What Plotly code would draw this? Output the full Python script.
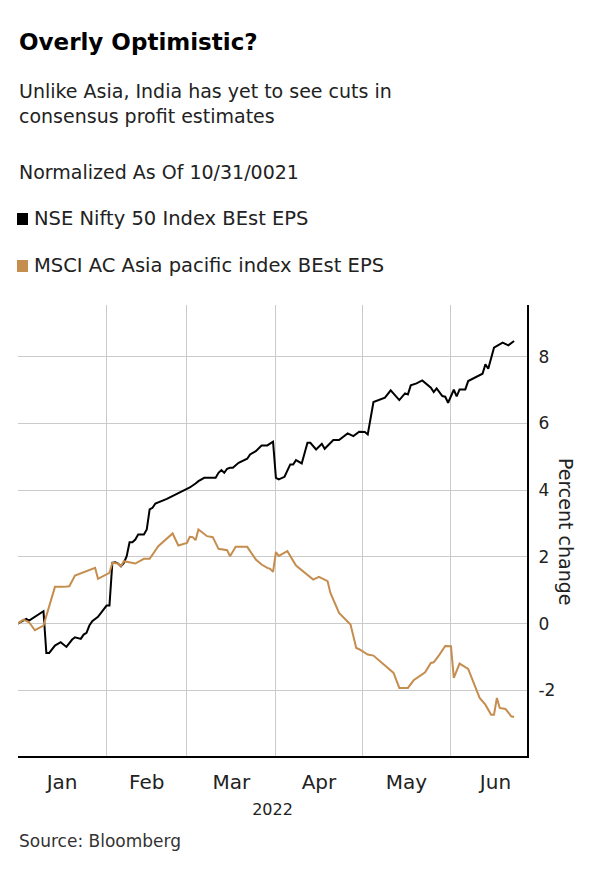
import plotly.graph_objects as go

# ---------------- data ----------------
nse_dates = [
    "2022-01-01", "2022-01-04", "2022-01-05", "2022-01-10", "2022-01-11", "2022-01-12",
    "2022-01-14", "2022-01-16", "2022-01-18", "2022-01-20", "2022-01-21", "2022-01-23",
    "2022-01-24", "2022-01-25", "2022-01-26", "2022-01-27", "2022-01-29", "2022-01-31",
    "2022-02-01", "2022-02-02", "2022-02-03", "2022-02-04", "2022-02-05", "2022-02-06",
    "2022-02-07", "2022-02-08", "2022-02-09", "2022-02-10", "2022-02-11", "2022-02-12",
    "2022-02-14", "2022-02-15", "2022-02-16", "2022-02-17", "2022-02-18", "2022-02-22",
    "2022-03-02", "2022-03-04", "2022-03-05", "2022-03-07", "2022-03-11", "2022-03-12",
    "2022-03-13", "2022-03-14", "2022-03-15", "2022-03-16", "2022-03-17", "2022-03-19",
    "2022-03-22", "2022-03-23", "2022-03-25", "2022-03-27", "2022-03-29", "2022-03-31",
    "2022-04-01", "2022-04-02", "2022-04-04", "2022-04-06", "2022-04-07", "2022-04-08",
    "2022-04-10", "2022-04-12", "2022-04-13", "2022-04-15", "2022-04-17", "2022-04-18",
    "2022-04-21", "2022-04-23", "2022-04-26", "2022-04-28", "2022-04-30", "2022-05-02",
    "2022-05-03", "2022-05-05", "2022-05-08", "2022-05-09", "2022-05-11", "2022-05-14",
    "2022-05-16", "2022-05-17", "2022-05-18", "2022-05-20", "2022-05-22", "2022-05-24",
    "2022-05-25", "2022-05-26", "2022-05-27", "2022-05-29", "2022-05-30", "2022-05-31",
    "2022-06-02", "2022-06-03", "2022-06-04", "2022-06-06", "2022-06-07", "2022-06-12",
    "2022-06-13", "2022-06-14", "2022-06-16", "2022-06-19", "2022-06-21", "2022-06-23",
]
nse_values = [
    0.00, 0.14, 0.09, 0.37, -0.88, -0.88,
    -0.66, -0.56, -0.70, -0.48, -0.41, -0.46,
    -0.33, -0.28, -0.06, 0.07, 0.20, 0.42,
    0.54, 0.54, 1.82, 1.84, 1.80, 1.72,
    1.82, 2.02, 2.44, 2.44, 2.52, 2.67,
    2.67, 2.82, 3.42, 3.47, 3.60, 3.74,
    4.08, 4.20, 4.27, 4.37, 4.37, 4.52,
    4.60, 4.52, 4.64, 4.67, 4.67, 4.82,
    4.94, 5.07, 5.17, 5.34, 5.34, 5.45,
    4.37, 4.32, 4.40, 4.77, 4.77, 4.90,
    4.80, 5.42, 5.42, 5.22, 5.39, 5.24,
    5.50, 5.50, 5.70, 5.62, 5.75, 5.74,
    5.67, 6.64, 6.74, 6.77, 6.99, 6.70,
    6.90, 6.87, 7.14, 7.20, 7.29, 7.14,
    7.07, 6.94, 7.05, 6.82, 6.80, 6.62,
    7.01, 6.81, 7.02, 7.02, 7.27, 7.49,
    7.77, 7.64, 8.27, 8.42, 8.34, 8.47,
]

msci_dates = [
    "2022-01-01", "2022-01-03", "2022-01-05", "2022-01-07", "2022-01-10", "2022-01-12",
    "2022-01-14", "2022-01-17", "2022-01-19", "2022-01-21", "2022-01-28", "2022-01-29",
    "2022-02-02", "2022-02-03", "2022-02-05", "2022-02-06", "2022-02-07", "2022-02-11",
    "2022-02-14", "2022-02-16", "2022-02-19", "2022-02-24", "2022-02-26", "2022-03-01",
    "2022-03-02", "2022-03-03", "2022-03-04", "2022-03-05", "2022-03-08", "2022-03-10",
    "2022-03-12", "2022-03-15", "2022-03-16", "2022-03-18", "2022-03-22", "2022-03-25",
    "2022-03-27", "2022-03-29", "2022-03-30", "2022-03-31", "2022-04-01", "2022-04-02",
    "2022-04-05", "2022-04-08", "2022-04-14", "2022-04-16", "2022-04-19", "2022-04-20",
    "2022-04-23", "2022-04-27", "2022-04-29", "2022-04-30", "2022-05-03", "2022-05-05",
    "2022-05-11", "2022-05-12", "2022-05-14", "2022-05-17", "2022-05-19", "2022-05-23",
    "2022-05-25", "2022-05-26", "2022-05-28", "2022-05-30", "2022-06-01", "2022-06-02",
    "2022-06-04", "2022-06-07", "2022-06-11", "2022-06-13", "2022-06-15", "2022-06-16",
    "2022-06-17", "2022-06-18", "2022-06-20", "2022-06-22", "2022-06-23",
]
msci_values = [
    0.00, 0.12, 0.04, -0.20, -0.06, 0.52,
    1.10, 1.10, 1.12, 1.44, 1.67, 1.34,
    1.52, 1.82, 1.80, 1.72, 1.87, 1.80,
    1.94, 1.94, 2.32, 2.70, 2.34, 2.42,
    2.60, 2.59, 2.50, 2.82, 2.62, 2.59,
    2.24, 2.20, 2.02, 2.30, 2.30, 1.92,
    1.77, 1.67, 1.64, 1.55, 2.14, 2.03,
    2.17, 1.74, 1.32, 1.40, 1.27, 0.92,
    0.32, -0.03, -0.73, -0.77, -0.93, -0.96,
    -1.43, -1.48, -1.93, -1.93, -1.70, -1.46,
    -1.18, -1.16, -0.93, -0.67, -0.68, -1.63,
    -1.20, -1.36, -2.23, -2.43, -2.73, -2.73,
    -2.23, -2.53, -2.56, -2.78, -2.80,
]

y_ticks = [-2, 0, 2, 4, 6, 8]
y_tick_labels = ["-2", "0", "2", "4", "6", "8"]
series_names = ["NSE Nifty 50 Index BEst EPS", "MSCI AC Asia pacific index BEst EPS"]

# ---------------- styling ----------------
FONT = "DejaVu Sans"
BLACK = "#000000"
TAN = "#c58d4e"
GRID = "#cbcbcb"
TEXT = "#222222"

# The page body adds an 8px offset, so the figure is drawn 8px smaller and
# every reference pixel coordinate is converted with that offset.
OFF = 8
W, H = 600 - OFF, 869 - OFF
L, T = 18 - OFF, 305 - OFF          # plot area: ref x 18..527, y 305..756
PW, PH = 509, 451
R, B = W - L - PW, H - T - PH


def px(x):
    return (x - OFF - L) / PW


def py(y):
    return (H - B - (y - OFF)) / PH


fig = go.Figure()
fig.add_trace(go.Scatter(x=nse_dates, y=nse_values, mode="lines", name=series_names[0],
                         line=dict(color=BLACK, width=2), showlegend=False))
fig.add_trace(go.Scatter(x=msci_dates, y=msci_values, mode="lines", name=series_names[1],
                         line=dict(color=TAN, width=2), showlegend=False))

fig.update_layout(
    width=W, height=H,
    margin=dict(l=L, r=R, t=T, b=B),
    paper_bgcolor="white", plot_bgcolor="white",
    font=dict(family=FONT, color=TEXT),
    xaxis=dict(
        type="date",
        range=["2022-01-01 03:00", "2022-06-27 12:00"],
        tick0="2022-01-01", dtick="M1", tickformat="%b",
        ticklabelmode="period",
        showgrid=True, gridcolor=GRID, gridwidth=1,
        showline=True, linecolor=BLACK, linewidth=2,
        ticks="", zeroline=False,
        tickfont=dict(size=20, color=TEXT),
        ticklabelstandoff=7,
        title=dict(text="2022", font=dict(size=16, color=TEXT), standoff=11),
    ),
    yaxis=dict(
        side="right",
        range=[-3.97, 9.55],
        tickmode="array", tickvals=y_ticks, ticktext=y_tick_labels,
        showgrid=True, gridcolor=GRID, gridwidth=1,
        showline=True, linecolor=BLACK, linewidth=2,
        ticks="", zeroline=False,
        tickfont=dict(size=17, color=TEXT),
        ticklabelstandoff=6,
    ),
)

ann = []
ann.append(dict(text="<b>Overly Optimistic?</b>", x=px(17), y=py(57), xanchor="left", yanchor="bottom",
                font=dict(size=23, color="#000000")))
ann.append(dict(text="Unlike Asia, India has yet to see cuts in<br>consensus profit estimates",
                x=px(17), y=py(129), xanchor="left", yanchor="bottom", align="left",
                font=dict(size=19, color=TEXT)))
ann.append(dict(text="Normalized As Of 10/31/0021", x=px(17), y=py(185), xanchor="left", yanchor="bottom",
                font=dict(size=19, color=TEXT)))
ann.append(dict(text=series_names[0], x=px(32), y=py(232),
                xanchor="left", yanchor="bottom", font=dict(size=19.5, color=TEXT)))
ann.append(dict(text=series_names[1], x=px(32), y=py(279),
                xanchor="left", yanchor="bottom", font=dict(size=19.5, color=TEXT)))
ann.append(dict(text="Percent change", x=px(566), y=py(531), xanchor="center", yanchor="middle",
                textangle=90, font=dict(size=19, color=TEXT)))
ann.append(dict(text="Source: Bloomberg", x=px(17), y=py(853), xanchor="left", yanchor="bottom",
                font=dict(size=17, color="#333333")))
for a in ann:
    a.update(xref="paper", yref="paper", showarrow=False)

# legend swatches
shapes = [
    dict(type="rect", xref="paper", yref="paper", x0=px(17), x1=px(28), y0=py(225), y1=py(213),
         fillcolor=BLACK, line=dict(width=0)),
    dict(type="rect", xref="paper", yref="paper", x0=px(17), x1=px(28), y0=py(272), y1=py(260),
         fillcolor=TAN, line=dict(width=0)),
]
fig.update_layout(annotations=ann, shapes=shapes)

fig.write_html("out.html")
